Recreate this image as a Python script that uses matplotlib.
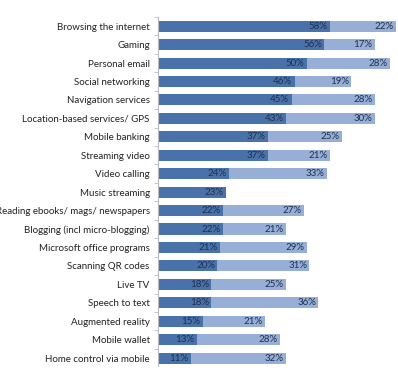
import matplotlib
matplotlib.use("Agg")
import matplotlib.pyplot as plt
import numpy as np

categories = [
    "Browsing the internet", "Gaming", "Personal email", "Social networking",
    "Navigation services", "Location-based services/ GPS", "Mobile banking",
    "Streaming video", "Video calling", "Music streaming",
    "Reading ebooks/ mags/ newspapers", "Blogging (incl micro-blogging)",
    "Microsoft office programs", "Scanning QR codes", "Live TV",
    "Speech to text", "Augmented reality", "Mobile wallet",
    "Home control via mobile",
]
first = [58, 56, 50, 46, 45, 43, 37, 37, 24, 23, 22, 22, 21, 20, 18, 18, 15, 13, 11]
second = [22, 17, 28, 19, 28, 30, 25, 21, 33, 0, 27, 21, 29, 31, 25, 36, 21, 28, 32]

dark = "#4a72aa"
light = "#97afd6"
text_col = "#1e2f4f"

fig = plt.figure(figsize=(3.98, 3.79), dpi=100)
ax = fig.add_axes([158 / 398, 13 / 379, 240 / 398, 349 / 379])

y = np.arange(len(categories))
ax.barh(y, first, height=0.6, color=dark)
ax.barh(y, second, left=first, height=0.6, color=light)

for yi, a, b in zip(y, first, second):
    ax.text(a - 0.8, yi, f"{a}%", ha="right", va="center", fontsize=7,
            color=text_col, family="Lato")
    if b:
        ax.text(a + b - 0.8, yi, f"{b}%", ha="right", va="center", fontsize=7,
                color=text_col, family="Lato")

ax.set_xlim(0, 80.8)
ax.set_ylim(18.43, -0.5)
ax.set_yticks(y)
ax.set_yticklabels(categories, fontsize=7, family="Lato", color="#222222")
ax.tick_params(axis="y", which="major", length=0, pad=6)
ax.set_yticks(np.arange(-0.5, 18.5, 1), minor=True)
ax.tick_params(axis="y", which="minor", length=3, color="#bbbbbb")
ax.set_xticks([])
for s in ["top", "right", "bottom"]:
    ax.spines[s].set_visible(False)
ax.spines["left"].set_color("#bbbbbb")

fig.savefig("out.png", dpi=100)
